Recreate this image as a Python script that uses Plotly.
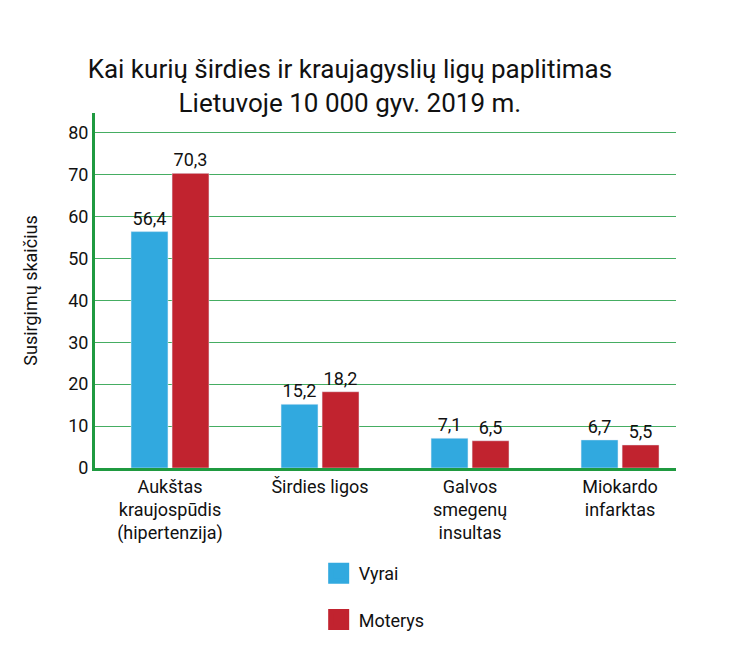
import plotly.graph_objects as go

categories = ["Aukštas<br>kraujospūdis<br>(hipertenzija)", "Širdies ligos",
              "Galvos<br>smegenų<br>insultas", "Miokardo<br>infarktas"]
vyrai = [56.4, 15.2, 7.1, 6.7]
moterys = [70.3, 18.2, 6.5, 5.5]
y_ticks = [0, 10, 20, 30, 40, 50, 60, 70, 80]

BLUE = "#31a9df"
RED = "#c1232f"
GREEN = "#1f9a40"

def fmt(v):
  return f"{v:.1f}".replace(".", ",")

fig = go.Figure()
fig.add_trace(go.Bar(x=categories, y=vyrai, marker_color=BLUE, name="Vyrai",
  text=[fmt(v) for v in vyrai], textposition="outside", cliponaxis=False,
  textfont=dict(size=18, color="#111"), showlegend=False))
fig.add_trace(go.Bar(x=categories, y=moterys, marker_color=RED, name="Moterys",
  text=[fmt(v) for v in moterys], textposition="outside", cliponaxis=False,
  textfont=dict(size=18, color="#111"), showlegend=False))

# legend swatches as big squares
for name, col in [("Vyrai", BLUE), ("Moterys", RED)]:
  fig.add_trace(go.Scatter(x=[None], y=[None], mode="markers", name=name,
    legendgroup=name,
    marker=dict(symbol="square", size=28, color=col, line=dict(color=col, width=6))))

fig.update_layout(
  width=740, height=658,
  paper_bgcolor="white", plot_bgcolor="white",
  font=dict(family="Roboto", size=18, color="#111"),
  title=dict(text="Kai kurių širdies ir kraujagyslių ligų paplitimas<br>Lietuvoje 10 000 gyv. 2019 m.",
    x=0.462, xanchor="center", y=0.893, yanchor="top",
    font=dict(size=26, color="#111")),
  margin=dict(l=87, r=72, t=105, b=198),
  barmode="group", bargap=0.453, bargroupgap=0.1,
  showlegend=True,
  legend=dict(x=0.385, y=-0.245, xanchor="left", yanchor="top",
    traceorder="grouped", tracegroupgap=20, font=dict(size=18)),
  yaxis=dict(range=[0, 84.7], tickvals=y_ticks, showgrid=True,
    gridcolor="#45ad62", gridwidth=1, showline=True, linecolor=GREEN,
    linewidth=3, zeroline=False, ticks="", tickfont=dict(size=18),
    title=dict(text="Susirgimų skaičius", font=dict(size=18), standoff=26)),
  xaxis=dict(range=[-0.5, 3.373], showline=True, linecolor=GREEN, linewidth=3,
    ticks="", tickfont=dict(size=18)),
)

fig.write_html("out.html")
